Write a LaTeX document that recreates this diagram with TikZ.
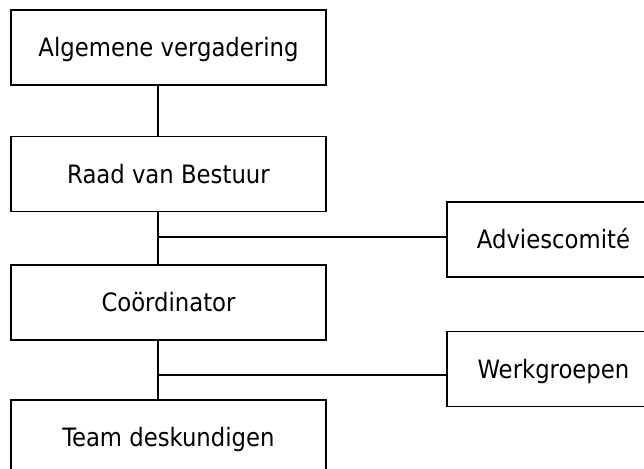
\documentclass[tikz,border=0pt]{standalone}
\usepackage{fontspec}
\setmainfont{DejaVu Sans Condensed}
\begin{document}
\begin{tikzpicture}[x=1pt,y=-1pt,
  box/.style={draw=black,line width=1.1pt,fill=white,inner sep=0pt,
    minimum height=75pt,text height=18.4pt,text depth=0pt,
    font=\fontsize{25.3}{30}\selectfont},
  mainbox/.style={box,minimum width=315pt},
  sidebox/.style={box,minimum width=213pt},
  link/.style={draw=black,line width=1.1pt}]
  \clip (0,0) rectangle (644,468);
  \fill[white] (0,0) rectangle (644,468);

  % vertical spine and the two branch points
  \coordinate (spine) at (158,0);
  \coordinate (j1) at (158,237);
  \coordinate (j2) at (158,375);

  % main column
  \node[mainbox] (av) at (168.5,47.5) {Algemene vergadering};
  \node[mainbox] (rb) at (168.5,174)  {Raad van Bestuur};
  \node[mainbox] (co) at (168.5,302.5){Coördinator};
  \node[mainbox] (td) at (168.5,437.5){Team deskundigen};

  % side column
  \node[sidebox] (ac) at (553.5,239.5){Adviescomité};
  \node[sidebox] (wg) at (553.5,369)  {Werkgroepen};

  % connectors
  \draw[link] (av.south -| spine) -- (rb.north -| spine);
  \draw[link] (rb.south -| spine) -- (co.north -| spine);
  \draw[link] (co.south -| spine) -- (td.north -| spine);
  \draw[link] (j1) -- (j1 -| ac.west);
  \draw[link] (j2) -- (j2 -| wg.west);
\end{tikzpicture}
\end{document}
